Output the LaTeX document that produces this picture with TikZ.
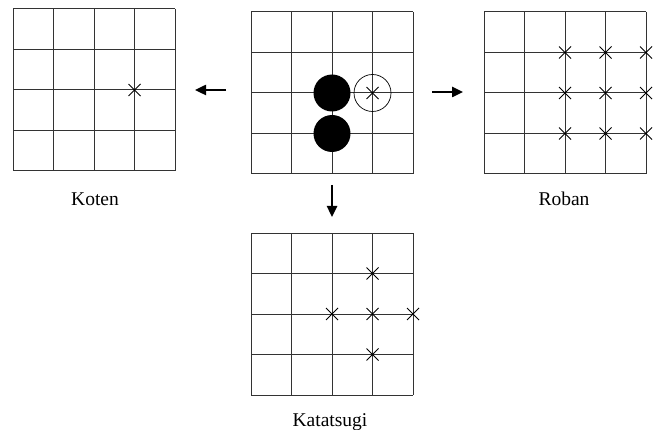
\documentclass[tikz,border=0pt]{standalone}
\usepackage{fontspec}
\setmainfont{Liberation Serif}
\usetikzlibrary{arrows.meta}
\newcommand\goboard[3]{% name, x, y (top-left)
  \node[draw=none, minimum size=162pt, inner sep=0pt, anchor=north west] (#1) at (#2,#3) {};
  \foreach \i in {0,...,4}{
    \draw[gridline] (#2+\i*40.5,#3) -- (#2+\i*40.5,#3+162);
    \draw[gridline] (#2,#3+\i*40.5) -- (#2+162,#3+\i*40.5);
  }}
\newcommand\xon[4]{% board x, board y, col, row
  \draw[cross] (#1+#3*40.5-6,#2+#4*40.5-6) -- (#1+#3*40.5+6,#2+#4*40.5+6)
               (#1+#3*40.5-6,#2+#4*40.5+6) -- (#1+#3*40.5+6,#2+#4*40.5-6);}
\begin{document}
\begin{tikzpicture}[x=1pt,y=-1pt,
  gridline/.style={line width=1pt, black!80},
  cross/.style={line width=0.9pt, black},
  stone/.style={circle, fill=black, minimum size=37pt, inner sep=0pt},
  target/.style={circle, draw=black, line width=0.7pt, minimum size=37pt, inner sep=0pt},
  arr/.style={line width=2.4pt, -{Triangle[length=11pt,width=10pt]}},
  lab/.style={font=\fontsize{19.5}{22}\selectfont, anchor=base}]
\useasboundingbox (0,0) rectangle (660,430);
% boards
\goboard{koten}{13}{9}
\goboard{start}{251}{12}
\goboard{roban}{484}{12}
\goboard{kata}{251}{233}
% start position
\node[stone] (b1) at (251+2*40.5,12+2*40.5) {};
\node[stone] (b2) at (251+2*40.5,12+3*40.5) {};
\node[target] (w1) at (251+3*40.5,12+2*40.5) {};
\xon{251}{12}{3}{2}
% koten
\xon{13}{9}{3}{2}
% roban
\foreach \c in {2,3,4}{\foreach \r in {1,2,3}{\xon{484}{12}{\c}{\r}}}
% katatsugi
\xon{251}{233}{3}{1}
\xon{251}{233}{2}{2}
\xon{251}{233}{3}{2}
\xon{251}{233}{4}{2}
\xon{251}{233}{3}{3}
% arrows
\coordinate (la) at (226,90);
\coordinate (lb) at (195,90);
\coordinate (ra) at (432,92);
\coordinate (rb) at (463,92);
\coordinate (da) at (332,185);
\coordinate (db) at (332,217);
\draw[arr] (la) -- (lb);
\draw[arr] (ra) -- (rb);
\draw[arr] (da) -- (db);
% labels
\node[lab] (lk) at (95,206) {Koten};
\node[lab] (lr) at (564,206) {Roban};
\node[lab] (lt) at (330,426) {Katatsugi};
\end{tikzpicture}
\end{document}
